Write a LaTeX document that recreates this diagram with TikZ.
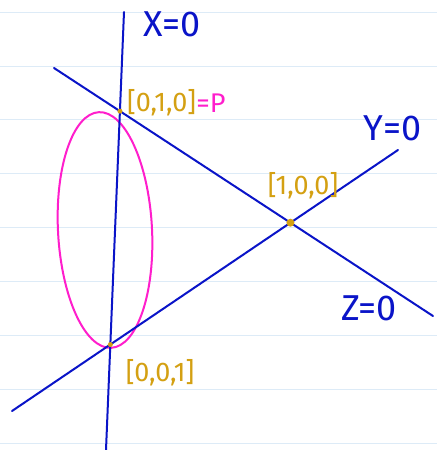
\documentclass[tikz,border=0pt]{standalone}
\usepackage{fontspec}
\setmainfont{Fira Sans}
\definecolor{penblue}{HTML}{0A14C8}
\definecolor{pengold}{HTML}{D4A012}
\definecolor{penpink}{HTML}{FF1ECC}
\definecolor{ruled}{HTML}{DDEBF7}
\begin{document}
\begin{tikzpicture}[x=1pt,y=-1pt,
  ruleline/.style={ruled,line width=1pt},
  bluepen/.style={penblue,line width=2pt,line cap=round},
  conic/.style={penpink,line width=2pt},
  bluelabel/.style={text=penblue,font=\fontsize{36}{36}\selectfont,inner sep=0pt},
  goldlabel/.style={text=pengold,font=\fontsize{27}{27}\selectfont,inner sep=0pt},
  pinklabel/.style={text=penpink,font=\fontsize{27}{27}\selectfont,inner sep=0pt},
  dotmark/.style={fill=pengold}]
\fill[white] (0,0) rectangle (437,450);
\useasboundingbox (0,0) rectangle (437,450);
\foreach \yy in {12,66,119,173,227,281,335,389,443}
  \draw[ruleline] (0,\yy) -- (437,\yy);
% line endpoints
\coordinate (xt) at (124,12);
\coordinate (xb) at (106,450);
\coordinate (zl) at (54,68);
\coordinate (zr) at (433,316);
\coordinate (yl) at (12,411);
\coordinate (yr) at (398,150);
\coordinate (P) at (intersection of xt--xb and zl--zr);
\coordinate (R) at (intersection of zl--zr and yl--yr);
\coordinate (Q) at (intersection of xt--xb and yl--yr);
\coordinate (C) at (105,230);
% conic
\draw[conic,rotate around={3:(C)}] (C) ellipse (47 and 118);
% lines
\draw[bluepen] (xt) -- (xb);
\draw[bluepen] (zl) -- (zr);
\draw[bluepen] (yl) -- (yr);
% points
\fill[dotmark] (P) circle (2.5);
\fill[dotmark] (R) circle (4);
\fill[dotmark] (Q) circle (2.5);
% labels
\node[bluelabel] (lx) at (172,24) {X=0};
\node[bluelabel,anchor=west] (ly) at (363,128) {Y=0};
\node[bluelabel] (lz) at (369,308) {Z=0};
\node[goldlabel,anchor=west] (lp) at (127,103) {[0,1,0]};
\node[pinklabel,anchor=west] (lpp) at (lp.east) {=P};
\node[goldlabel] (lr) at (303,186) {[1,0,0]};
\node[goldlabel] (lq) at (160,373) {[0,0,1]};
\end{tikzpicture}
\end{document}
